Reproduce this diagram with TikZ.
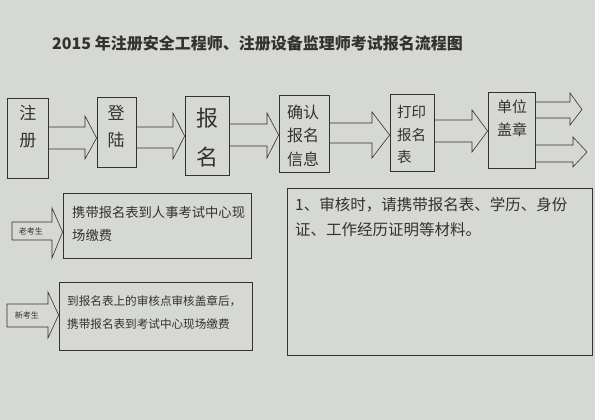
\documentclass[tikz,border=0pt]{standalone}
\usepackage{fontspec}
\setmainfont{Noto Sans CJK SC}
\usetikzlibrary{positioning}
\definecolor{paper}{RGB}{214,216,211}
\definecolor{ink}{RGB}{50,50,50}

\begin{document}
\begin{tikzpicture}[x=1pt, y=-1pt,
    box/.style={draw=ink, line width=0.8pt, inner sep=0pt},
    blk/.style={draw=ink, line width=0.6pt, line join=miter},
    txt/.style={text=ink, inner sep=0pt, align=center}]
				\fill [paper] (0, 0) rectangle (595, 420);
				\useasboundingbox (0, 0) rectangle (595, 420);
				% title
				\node [txt, font=\fontsize{16}{18}\selectfont\bfseries] (title) at (257.5, 43) {2015 年注册安全工程师、注册设备监理师考试报名流程图};
				% top row boxes
				\node [box, minimum width=41pt, minimum height=80pt] (zc) at (27.5, 138) {};
				\node [box, minimum width=39pt, minimum height=70pt] (dl) at (116.5, 132) {};
				\node [box, minimum width=44pt, minimum height=79pt] (bm) at (207, 135.5) {};
				\node [box, minimum width=50pt, minimum height=77pt] (qr) at (304, 133.5) {};
				\node [box, minimum width=44pt, minimum height=77pt] (dy) at (412, 132.5) {};
				\node [box, minimum width=47pt, minimum height=76pt] (dw) at (511.5, 130) {};
				\node [txt, font=\fontsize{17}{27}\selectfont] at (28, 126.5) {注\\册};
				\node [txt, font=\fontsize{17}{27}\selectfont] at (116, 126.5) {登\\陆};
				\node [txt, font=\fontsize{22}{39}\selectfont] at (207, 137.5) {报\\名};
				\node [txt, font=\fontsize{16}{23.5}\selectfont] at (303, 135.5) {确认\\报名\\信息};
				\node [txt, align=left, anchor=west, font=\fontsize{14.5}{22.5}\selectfont] at (397, 134.5) {打印\\报名\\表};
				\node [txt, font=\fontsize{15}{23}\selectfont] at (512, 118.5) {单位\\盖章};
				% block arrows between the boxes
				\draw [blk] (zc.east |- 0,127)--(85, 127)--(85, 116)--(dl.west |- 0,138)--(85, 159)--(85, 149)--(zc.east |- 0,149);
				\draw [blk] (dl.east |- 0,127)--(173, 127)--(173, 113)--(bm.west |- 0,136)--(173, 159)--(173, 148)--(dl.east |- 0,148);
				\draw [blk] (bm.east |- 0,124)--(267, 124)--(267, 113)--(qr.west |- 0,135)--(267, 158)--(267, 146)--(bm.east |- 0,146);
				\draw [blk] (qr.east |- 0,123)--(372, 123)--(372, 112)--(dy.west |- 0,135)--(372, 158)--(372, 143)--(qr.east |- 0,143);
				\draw [blk] (dy.east |- 0,120)--(472, 120)--(472, 110)--(dw.west |- 0,131)--(472, 152)--(472, 142)--(dy.east |- 0,142);
				\coordinate (up) at (582, 109.5);
				\coordinate (dn) at (587, 152);
				\draw [blk] (dw.east |- 0,102)--(570, 102)--(570, 93)--(up)--(570, 125)--(570, 118)--(dw.east |- 0,118);
				\draw [blk] (dw.east |- 0,145)--(573, 145)--(573, 137)--(dn)--(573, 167)--(573, 162)--(dw.east |- 0,162);
				% lower left
				\node [box, minimum width=188pt, minimum height=65pt] (lk) at (157, 225.5) {};
				\node [box, minimum width=193pt, minimum height=68pt] (xk) at (155.5, 316) {};
				\draw [blk] (12, 222)--(52, 222)--(52, 208)--(lk.west |- 0,232)--(52, 258)--(52, 240)--(12, 240)--cycle;
				\draw [blk] (7, 304)--(48, 304)--(48, 292)--(xk.west |- 0,315)--(48, 338)--(48, 327)--(7, 327)--cycle;
				\node [txt, font=\fontsize{8}{9}\selectfont] (lao) at (31, 231) {老考生};
				\node [txt, font=\fontsize{8}{9}\selectfont] (xin) at (27, 315.5) {新考生};
				\node [txt, align=left, anchor=west, font=\fontsize{13.3}{23}\selectfont] at (72, 223.5) {携带报名表到人事考试中心现\\场缴费};
				\node [txt, align=left, anchor=west, font=\fontsize{11.6}{23}\selectfont] at (67, 312.5) {到报名表上的审核点审核盖章后，\\携带报名表到考试中心现场缴费};
				% note box
				\node [box, minimum width=305pt, minimum height=167pt] (note) at (439.5, 271.5) {};
				\node [txt, align=left, anchor=west, font=\fontsize{15.5}{25}\selectfont] at (295, 217.5) {1、审核时，请携带报名表、学历、身份\\证、工作经历证明等材料。};

			\end{tikzpicture}
\end{document}
